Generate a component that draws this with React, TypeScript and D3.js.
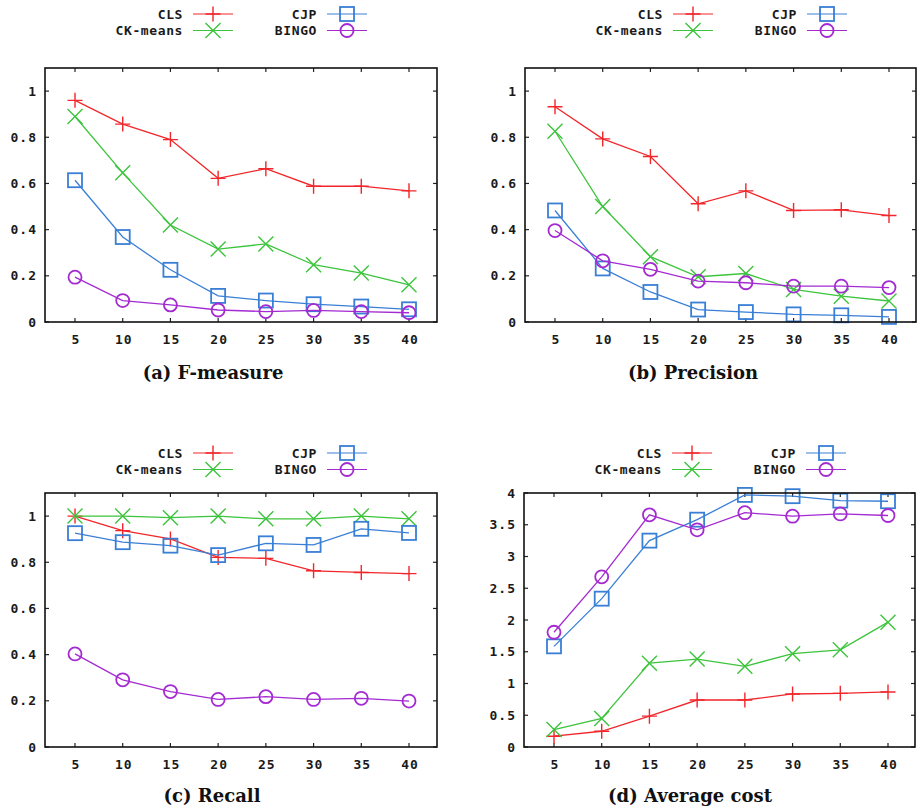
import React from "react";
import * as d3 from "d3";

const xCats = [5, 10, 15, 20, 25, 30, 35, 40];
const seriesNames = ["CLS", "CK-means", "CJP", "BINGO"];

// (a) F-measure
const fCLS = [0.96, 0.857, 0.79, 0.622, 0.664, 0.588, 0.588, 0.568];
const fCK = [0.89, 0.646, 0.42, 0.316, 0.338, 0.248, 0.212, 0.161];
const fCJP = [0.614, 0.368, 0.226, 0.113, 0.093, 0.077, 0.067, 0.055];
const fBINGO = [0.194, 0.093, 0.074, 0.052, 0.045, 0.05, 0.045, 0.04];

// (b) Precision
const pCLS = [0.932, 0.793, 0.717, 0.512, 0.568, 0.483, 0.486, 0.461];
const pCK = [0.826, 0.5, 0.283, 0.196, 0.21, 0.141, 0.112, 0.091];
const pCJP = [0.483, 0.232, 0.13, 0.054, 0.043, 0.033, 0.029, 0.022];
const pBINGO = [0.396, 0.265, 0.228, 0.177, 0.17, 0.155, 0.155, 0.149];

// (c) Recall
const rCLS = [1.0, 0.937, 0.901, 0.821, 0.817, 0.763, 0.756, 0.751];
const rCK = [1.0, 1.0, 0.993, 1.0, 0.988, 0.988, 1.0, 0.988];
const rCJP = [0.926, 0.887, 0.872, 0.831, 0.882, 0.875, 0.945, 0.927];
const rBINGO = [0.403, 0.291, 0.24, 0.206, 0.218, 0.206, 0.211, 0.199];

// (d) Average cost
const cCLS = [0.17, 0.248, 0.486, 0.74, 0.74, 0.835, 0.845, 0.867];
const cCK = [0.275, 0.45, 1.32, 1.385, 1.27, 1.47, 1.53, 1.966];
const cCJP = [1.585, 2.336, 3.25, 3.58, 3.97, 3.95, 3.88, 3.87];
const cBINGO = [1.807, 2.68, 3.656, 3.42, 3.69, 3.635, 3.67, 3.646];

const yTicks01 = [0, 0.2, 0.4, 0.6, 0.8, 1];
const yTickLabels01 = ["0", "0.2", "0.4", "0.6", "0.8", "1"];
const yTicksCost = [0, 0.5, 1, 1.5, 2, 2.5, 3, 3.5, 4];
const yTickLabelsCost = ["0", "0.5", "1", "1.5", "2", "2.5", "3", "3.5", "4"];

const titles = ["(a) F-measure", "(b) Precision", "(c) Recall", "(d) Average cost"];

const colors = ["#f2262a", "#3cc43c", "#3a7fd6", "#a42ad2"];
const markers = ["plus", "cross", "square", "circle"];

const MONO = "'DejaVu Sans Mono', 'Liberation Mono', monospace";
const SERIF = "'DejaVu Serif', 'Liberation Serif', serif";

type Panel = {
  L: number; R: number; T: number; B: number;
  ymax: number;
  ticks: number[]; tickLabels: string[];
  data: number[][];
  title: string; titleX: number; titleY: number;
  legY: number;
};

const panels: Panel[] = [
  { L: 45, R: 437, T: 68, B: 322, ymax: 1.1, ticks: yTicks01, tickLabels: yTickLabels01,
    data: [fCLS, fCK, fCJP, fBINGO], title: titles[0], titleX: 213, titleY: 379, legY: 14 },
  { L: 525, R: 916, T: 68, B: 322, ymax: 1.1, ticks: yTicks01, tickLabels: yTickLabels01,
    data: [pCLS, pCK, pCJP, pBINGO], title: titles[1], titleX: 693, titleY: 379, legY: 14 },
  { L: 45, R: 437, T: 493, B: 747, ymax: 1.1, ticks: yTicks01, tickLabels: yTickLabels01,
    data: [rCLS, rCK, rCJP, rBINGO], title: titles[2], titleX: 212, titleY: 802, legY: 453 },
  { L: 524, R: 915, T: 493, B: 747, ymax: 4, ticks: yTicksCost, tickLabels: yTickLabelsCost,
    data: [cCLS, cCK, cCJP, cBINGO], title: titles[3], titleX: 690, titleY: 802, legY: 453 },
];

function Marker({ type, x, y, color }: { type: string; x: number; y: number; color: string }) {
  const sw = 1.4;
  if (type === "plus") {
    const s = 7.5;
    return <path d={`M${x - s},${y}H${x + s}M${x},${y - s}V${y + s}`} stroke={color} strokeWidth={sw} fill="none" />;
  }
  if (type === "cross") {
    const s = 7.5;
    return <path d={`M${x - s},${y - s}L${x + s},${y + s}M${x - s},${y + s}L${x + s},${y - s}`} stroke={color} strokeWidth={sw} fill="none" />;
  }
  if (type === "square") {
    const s = 7;
    return <rect x={x - s} y={y - s} width={2 * s} height={2 * s} stroke={color} strokeWidth={1.8} fill="none" />;
  }
  return <circle cx={x} cy={y} r={6.5} stroke={color} strokeWidth={1.8} fill="none" />;
}

const labelStyle = { letterSpacing: "1px" };

function PanelView({ p }: { p: Panel }) {
  const x = d3.scaleLinear().domain([5, 40]).range([p.L + 30, p.L + 364]);
  const y = d3.scaleLinear().domain([0, p.ymax]).range([p.B, p.T]);
  const line = d3.line<number>().x((_, i) => x(xCats[i])).y((d) => y(d));
  const tl = 4;
  const clsRight = p.L + 138;
  const cjpRight = p.L + 272;
  const legRows = [
    { name: seriesNames[0], idx: 0, xr: clsRight, yy: p.legY },
    { name: seriesNames[1], idx: 1, xr: clsRight, yy: p.legY + 16.5 },
    { name: seriesNames[2], idx: 2, xr: cjpRight, yy: p.legY },
    { name: seriesNames[3], idx: 3, xr: cjpRight, yy: p.legY + 16.5 },
  ];
  return (
    <g>
      {/* legend */}
      {legRows.map((r) => (
        <g key={r.name}>
          <text x={r.xr} y={r.yy} textAnchor="end" dominantBaseline="central" style={{ letterSpacing: "0.6px" }}
            fontFamily={MONO} fontWeight="bold" fontSize={13} fill="#1a1a1a">{r.name}</text>
          <line x1={r.xr + 10} x2={r.xr + 50} y1={r.yy} y2={r.yy} stroke={colors[r.idx]} strokeWidth={1.2} />
          <Marker type={markers[r.idx]} x={r.xr + 30} y={r.yy} color={colors[r.idx]} />
        </g>
      ))}
      {/* ticks */}
      {p.ticks.map((t, i) => (
        <g key={"y" + i}>
          <line x1={p.L} x2={p.L + tl} y1={y(t)} y2={y(t)} stroke="#222" strokeWidth={1.2} />
          <line x1={p.R} x2={p.R - tl} y1={y(t)} y2={y(t)} stroke="#222" strokeWidth={1.2} />
          <text x={p.L - 8} y={y(t)} textAnchor="end" dominantBaseline="central" style={labelStyle}
            fontFamily={MONO} fontWeight="bold" fontSize={13} fill="#1a1a1a">{p.tickLabels[i]}</text>
        </g>
      ))}
      {xCats.map((c) => (
        <g key={"x" + c}>
          <line x1={x(c)} x2={x(c)} y1={p.B} y2={p.B - tl} stroke="#222" strokeWidth={1.2} />
          <line x1={x(c)} x2={x(c)} y1={p.T} y2={p.T + tl} stroke="#222" strokeWidth={1.2} />
          <text x={x(c) + 1} y={p.B + 17} textAnchor="middle" dominantBaseline="central" style={labelStyle}
            fontFamily={MONO} fontWeight="bold" fontSize={13} fill="#1a1a1a">{c}</text>
        </g>
      ))}
      {/* series */}
      {p.data.map((vals, si) => (
        <g key={"s" + si}>
          <path d={line(vals) || ""} fill="none" stroke={colors[si]} strokeWidth={1.3} />
          {vals.map((v, i) => (
            <Marker key={i} type={markers[si]} x={x(xCats[i])} y={y(v)} color={colors[si]} />
          ))}
        </g>
      ))}
      {/* frame */}
      <rect x={p.L} y={p.T} width={p.R - p.L} height={p.B - p.T} fill="none" stroke="#111" strokeWidth={1.6} />
      {/* title */}
      <text x={p.titleX} y={p.titleY} textAnchor="middle" fontFamily={SERIF} fontWeight="bold"
        fontSize={18} fill="#111">{p.title}</text>
    </g>
  );
}

export default function App() {
  return (
    <svg width={918} height={811} style={{ position: "absolute", left: 0, top: 0, background: "#fff" }}>
      <rect x={0} y={0} width={918} height={811} fill="#fff" />
      {panels.map((p, i) => (
        <PanelView key={i} p={p} />
      ))}
    </svg>
  );
}
